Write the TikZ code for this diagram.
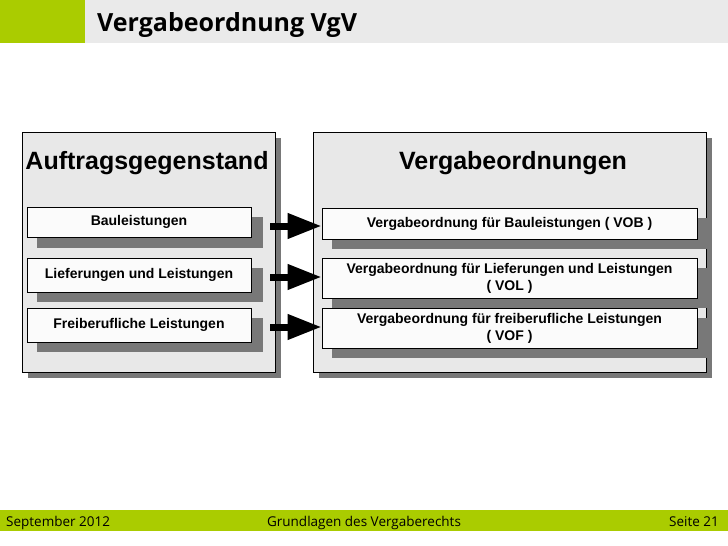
\documentclass[tikz,border=0pt]{standalone}
\usepackage{fontspec}
\setmainfont{Liberation Sans}
\newfontfamily\hdr{Open Sans}
\usetikzlibrary{arrows.meta}
\definecolor{lime}{RGB}{170,204,0}
\definecolor{band}{RGB}{234,234,234}
\definecolor{panel}{RGB}{232,232,232}
\definecolor{shad}{RGB}{120,120,120}
\tikzset{
 panelbox/.style={draw=black,fill=panel,line width=0.8pt},
 innerbox/.style={draw=black,fill=white!97!gray,line width=0.8pt,align=center,font=\bfseries\fontsize{14}{17}\selectfont},
 shadowbox/.style={fill=shad,draw=none},
 bigarrow/.style={line width=7pt,-{Triangle[length=34pt 0,width=24pt 0]}}
}
\begin{document}
\begin{tikzpicture}[x=1pt,y=-1pt]
\useasboundingbox (0,0) rectangle (728,546);
\fill[white] (0,0) rectangle (728,546);
% header
\fill[lime] (0,0) rectangle (85,43);
\fill[band] (85,0) rectangle (728,43);
\node[anchor=base west,font=\hdr\bfseries\fontsize{25}{28}\selectfont,inner sep=0] (title) at (97,31) {Vergabeordnung VgV};
% footer
\fill[lime] (0,510) rectangle (728,531);
\node[anchor=base west,font=\hdr\fontsize{13.5}{15}\selectfont,inner sep=0] (f1) at (6,526) {September 2012};
\node[anchor=base,font=\hdr\fontsize{13.5}{15}\selectfont,inner sep=0] (f2) at (364,526) {Grundlagen des Vergaberechts};
\node[anchor=base east,font=\hdr\fontsize{13.5}{15}\selectfont,inner sep=0] (f3) at (719,526) {Seite 21};
% panels
\fill[shad] (28,138) rectangle (281,378);
\draw[panelbox] (22,132) rectangle (275,372);
\fill[shad] (319,138) rectangle (712,378);
\draw[panelbox] (313,132) rectangle (706,372);
\node[font=\bfseries\fontsize{25}{28}\selectfont] (lt) at (147,163) {Auftragsgegenstand};
\node[font=\bfseries\fontsize{25}{28}\selectfont] (rt) at (513,163) {Vergabeordnungen};
% left inner
\fill[shad] (37,217) rectangle (263,248);
\fill[shad] (37,268) rectangle (263,302);
\fill[shad] (37,318) rectangle (263,352);
\node[innerbox,minimum width=224pt,minimum height=30pt,inner sep=0] (l1) at (139,222) {Bauleistungen};
\node[innerbox,minimum width=224pt,minimum height=34pt,inner sep=0] (l2) at (139,275) {Lieferungen und Leistungen};
\node[innerbox,minimum width=224pt,minimum height=34pt,inner sep=0] (l3) at (139,325) {Freiberufliche Leistungen};
% right inner
\fill[shad] (332,218) rectangle (707,249);
\fill[shad] (332,268) rectangle (707,308);
\fill[shad] (332,318) rectangle (707,358);
\node[innerbox,minimum width=375pt,minimum height=31pt,inner sep=0] (r1) at (509.5,223.5) {Vergabeordnung für Bauleistungen ( VOB )};
\node[innerbox,minimum width=375pt,minimum height=40pt,inner sep=0] (r2) at (509.5,278) {Vergabeordnung für Lieferungen und Leistungen\\( VOL )};
\node[innerbox,minimum width=375pt,minimum height=40pt,inner sep=0] (r3) at (509.5,328) {Vergabeordnung für freiberufliche Leistungen\\( VOF )};
% arrows
\draw[bigarrow] (l1.east |- 0,226) ++(19,0) -- (r1.west |- 0,226);
\draw[bigarrow] (l2.east |- 0,277) ++(19,0) -- (r2.west |- 0,277);
\draw[bigarrow] (l3.east |- 0,327) ++(19,0) -- (r3.west |- 0,327);
\end{tikzpicture}
\end{document}
